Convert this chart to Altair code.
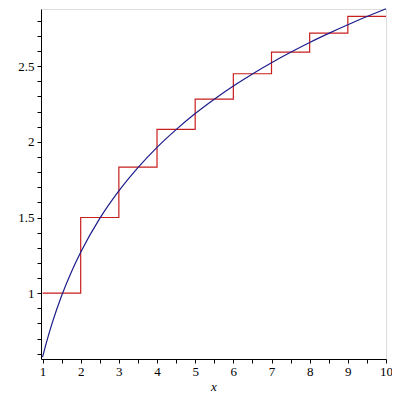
import altair as alt
import pandas as pd

# Step function values (harmonic numbers)
step_x = [1, 2, 3, 4, 5, 6, 7, 8, 9, 10]
step_y = [1.0, 1.5, 1.833, 2.083, 2.283, 2.45, 2.593, 2.718, 2.829, 2.829]

# Smooth curve values
curve_x = [1, 1.1, 1.25, 1.5, 1.75, 2, 2.5, 3, 3.5, 4, 4.5, 5, 5.5, 6, 6.5, 7, 7.5, 8, 8.5, 9, 9.5, 10]
curve_y = [0.577, 0.672, 0.800, 0.983, 1.137, 1.270, 1.494, 1.676, 1.830, 1.964, 2.081, 2.187,
           2.282, 2.369, 2.449, 2.523, 2.592, 2.657, 2.717, 2.774, 2.828, 2.880]

x_ticks = [1 + 0.5 * i for i in range(19)]
y_ticks = [round(0.6 + 0.1 * i, 1) for i in range(23)]

steps = pd.DataFrame({"x": step_x, "y": step_y})
curve = pd.DataFrame({"x": curve_x, "y": curve_y})

font = "Liberation Serif"

xs = alt.Scale(domain=[0.96, 10], nice=False, zero=False)
ys = alt.Scale(domain=[0.565, 2.878], nice=False, zero=False)

x_axis = alt.Axis(values=x_ticks, tickCount=100,
                  labelExpr="abs(datum.value - round(datum.value)) < 0.01 ? format(datum.value, 'd') : ''",
                  grid=False, tickSize=4, labelFont=font, labelFontSize=13, labelColor="#000",
                  domainColor="#000", tickColor="#000", labelPadding=2, labelOverlap=False,
                  title="x", titleFont=font, titleFontStyle="italic", titleFontWeight="normal",
                  titleFontSize=13, titleColor="#000", titlePadding=2, labelFlush=False)
y_axis = alt.Axis(values=y_ticks, tickCount=100,
                  labelExpr="abs(datum.value*2 - round(datum.value*2)) < 0.01 ? format(datum.value, '~g') : ''",
                  grid=False, tickSize=4, labelFont=font, labelFontSize=13, labelColor="#000",
                  domainColor="#000", tickColor="#000", labelPadding=3, labelOverlap=False,
                  title=None, labelFlush=False)

step_line = alt.Chart(steps).mark_line(interpolate="step-after", color="#c81e1e", strokeWidth=1.2).encode(
    x=alt.X("x:Q", scale=xs, axis=x_axis),
    y=alt.Y("y:Q", scale=ys, axis=y_axis),
)
curve_line = alt.Chart(curve).mark_line(interpolate="monotone", color="#1c1c8c", strokeWidth=1.2).encode(
    x=alt.X("x:Q", scale=xs),
    y=alt.Y("y:Q", scale=ys),
)

chart = alt.layer(step_line, curve_line).properties(
    width=345, height=350,
    autosize=alt.AutoSizeParams(type="none"),
    padding={"left": 33, "top": 1, "right": 6, "bottom": 36},
).configure_view(stroke=None).configure(background="white")

chart.save("out.html", embed_options={"renderer": "svg", "actions": False})
